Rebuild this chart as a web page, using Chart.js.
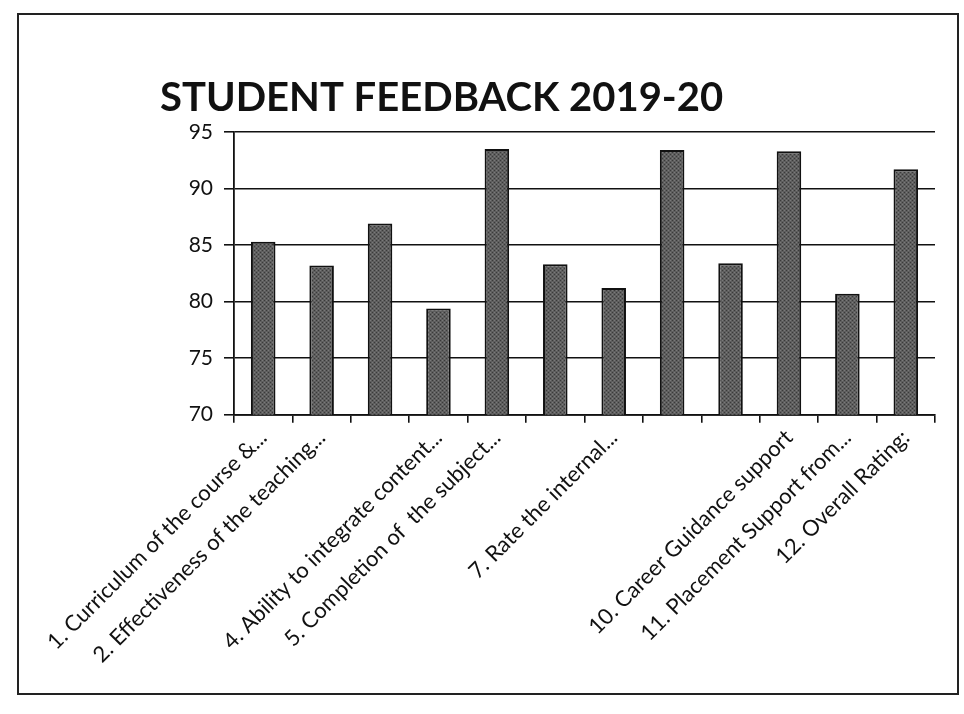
<!DOCTYPE html>
<html>
<head>
<meta charset="utf-8">
<script src="https://cdn.jsdelivr.net/npm/chart.js@4"></script>
<style>
  body { margin: 0; background: #fff; }
  #wrap { width: 964px; height: 714px; }
</style>
</head>
<body>
<div id="wrap"><canvas id="graficoBarras"></canvas></div>
<script>
// categorias (3, 6, 8 e 9 não aparecem no eixo do original)
const categorias = [
    '1. Curriculum of the course &...',
    '2. Effectiveness of the teaching...',
    '',
    '4. Ability to integrate content...',
    '5. Completion of  the subject...',
    '',
    '7. Rate the internal...',
    '',
    '',
    '10. Career Guidance support',
    '11. Placement Support from...',
    '12. Overall Rating:'
];

// valores
const notas = [85.3, 83.2, 86.9, 79.4, 93.5, 83.3, 81.2, 93.4, 83.4, 93.3, 80.7, 91.7];

const ticksY = [70, 75, 80, 85, 90, 95];

// textura pontilhada das barras (padrão fixo, sem aleatório)
function criarTextura() {
    const c = document.createElement('canvas');
    c.width = 4;
    c.height = 4;
    const g = c.getContext('2d');
    g.fillStyle = '#5e5e5e';
    g.fillRect(0, 0, 4, 4);
    g.fillStyle = '#3a3a3a';
    g.fillRect(0, 0, 1, 1);
    g.fillRect(2, 2, 1, 1);
    g.fillStyle = '#7a7a7a';
    g.fillRect(2, 0, 1, 1);
    g.fillRect(0, 2, 1, 1);
    return g.createPattern(c, 'repeat');
}

// fundo branco e moldura da página
const moldura = {
    id: 'moldura',
    beforeDraw(chart) {
        const ctx = chart.ctx;
        ctx.save();
        ctx.fillStyle = '#fff';
        ctx.fillRect(0, 0, chart.width, chart.height);
        ctx.strokeStyle = '#222';
        ctx.lineWidth = 2;
        ctx.strokeRect(18, 14, 940, 680);
        ctx.restore();
    }
};

const config = {
    type: 'bar',
    data: {
        labels: categorias,
        datasets: [{
            label: 'Student Feedback',
            data: notas,
            backgroundColor: criarTextura(),
            borderColor: '#111',
            borderWidth: 2,
            borderSkipped: 'bottom',
            barPercentage: 0.42,
            categoryPercentage: 1
        }]
    },
    options: {
        responsive: false,
        animation: false,
        layout: { padding: { left: 160, right: 29, top: 74, bottom: 44 } },
        plugins: {
            legend: { display: false },
            tooltip: { enabled: false },
            title: {
                display: true,
                text: 'STUDENT FEEDBACK 2019-20',
                align: 'start',
                color: '#111',
                font: { family: 'Lato', size: 40, weight: 'bold' },
                padding: { top: 0, bottom: 10 }
            }
        },
        scales: {
            x: {
                offset: true,
                grid: {
                    offset: true,
                    drawOnChartArea: false,
                    drawTicks: true,
                    tickLength: 8,
                    color: '#111',
                    lineWidth: 1.6
                },
                border: { color: '#111', width: 1.8 },
                ticks: {
                    autoSkip: false,
                    maxRotation: 45,
                    minRotation: 45,
                    padding: 2,
                    color: '#111',
                    font: { family: 'Lato', size: 22 }
                }
            },
            y: {
                min: 70,
                max: 95,
                afterBuildTicks(axis) {
                    axis.ticks = ticksY.map(v => ({ value: v }));
                },
                afterFit(axis) {
                    axis.width = 74;
                },
                grid: {
                    color: '#111',
                    lineWidth: 1.6,
                    tickLength: 10
                },
                border: { color: '#111', width: 1.8 },
                ticks: {
                    color: '#111',
                    padding: 11,
                    font: { family: 'Lato', size: 21 }
                }
            }
        }
    },
    plugins: [moldura]
};

const canvas = document.getElementById('graficoBarras');
canvas.width = 964;
canvas.height = 714;
new Chart(canvas, config);
</script>
</body>
</html>
